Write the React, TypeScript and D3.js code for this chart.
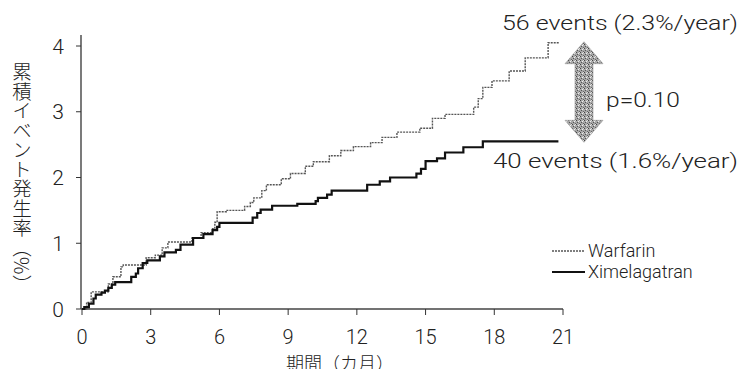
import React from "react";
import * as d3 from "d3";

// step points: [month, cumulative event rate %], each point starts a new level
const warfarin: [number, number][] = [
	[0, 0], [0.2, 0.1], [0.4, 0.26], [1.15, 0.38], [1.35, 0.49], [1.7, 0.64], [1.8, 0.67],
	[2.8, 0.78], [3.2, 0.82], [3.5, 0.93], [3.75, 1.02], [4.8, 1.08], [5.2, 1.16], [5.7, 1.22],
	[5.8, 1.32], [5.9, 1.48], [6.3, 1.5], [7.1, 1.56], [7.35, 1.62], [7.5, 1.69], [7.85, 1.8],
	[8.05, 1.89], [8.7, 1.98], [9.1, 2.06], [9.75, 2.17], [10.1, 2.24], [10.8, 2.33], [11.3, 2.41],
	[11.85, 2.47], [12.6, 2.53], [13.1, 2.61], [13.75, 2.69], [14.75, 2.75], [15.3, 2.9],
	[15.85, 2.96], [17.1, 3.07], [17.3, 3.2], [17.5, 3.37], [17.9, 3.47], [18.65, 3.62],
	[19.35, 3.82], [20.35, 4.05], [20.85, 4.05],
];
const ximelagatran: [number, number][] = [
	[0, 0], [0.1, 0.03], [0.3, 0.08], [0.5, 0.16], [0.6, 0.22], [0.85, 0.25], [1.0, 0.28],
	[1.15, 0.32], [1.3, 0.37], [1.45, 0.41], [2.15, 0.49], [2.35, 0.54], [2.45, 0.62],
	[2.65, 0.7], [2.85, 0.74], [3.4, 0.8], [3.6, 0.86], [4.1, 0.9], [4.3, 0.98], [4.85, 1.08],
	[5.3, 1.14], [5.7, 1.2], [5.9, 1.25], [6.0, 1.31], [7.45, 1.39], [7.65, 1.46], [7.8, 1.51],
	[8.3, 1.57], [9.4, 1.6], [10.2, 1.64], [10.3, 1.69], [10.7, 1.74], [10.9, 1.8], [12.45, 1.89],
	[13.0, 1.94], [13.45, 2.0], [14.6, 2.06], [14.8, 2.13], [15.0, 2.25], [15.5, 2.29],
	[15.85, 2.38], [16.65, 2.46], [17.5, 2.55], [20.8, 2.55],
];
const xTicks = [0, 3, 6, 9, 12, 15, 18, 21];
const yTicks = [0, 1, 2, 3, 4];
const seriesNames = ["Warfarin", "Ximelagatran"];
const yTitle = "累積イベント発生率（%）";
const xTitle = "期間（カ月）";
const upperNote = "56 events (2.3%/year)";
const lowerNote = "40 events (1.6%/year)";
const pNote = "p=0.10";

const font = "Roboto, 'Noto Sans CJK JP', sans-serif";
const cjk = "'Noto Sans CJK JP', sans-serif";

export default function App() {
	const x = d3.scaleLinear().domain([0, 21]).range([82, 563]);
	const y = d3.scaleLinear().domain([0, 4]).range([309, 46]);
	const line = d3
		.line<[number, number]>()
		.x((d) => x(d[0]))
		.y((d) => y(d[1]))
		.curve(d3.curveStepAfter);

	// double arrow between the two end levels
	const ax = 584,
		top = y(4.05) - 1,
		bot = y(2.55) + 1,
		hw = 19,
		sw = 9,
		hh = 22;
	const arrow = `M${ax},${top} L${ax + hw},${top + hh} L${ax + sw},${top + hh} L${ax + sw},${bot - hh} L${ax + hw},${bot - hh} L${ax},${bot} L${ax - hw},${bot - hh} L${ax - sw},${bot - hh} L${ax - sw},${top + hh} L${ax - hw},${top + hh} Z`;

	return (
		<svg
			width={746}
			height={369}
			style={{ position: "absolute", left: 0, top: 0, background: "white" }}
			fontFamily={font}
			fontWeight={300}
		>
			<defs>
				<pattern id="stip" width={4} height={4} patternUnits="userSpaceOnUse">
					<rect width={4} height={4} fill="#a8a8a8" />
					<rect x={0} y={0} width={1} height={1} fill="#444" />
					<rect x={2} y={1} width={1} height={1} fill="#eee" />
					<rect x={1} y={2} width={1} height={1} fill="#555" />
					<rect x={3} y={3} width={1} height={1} fill="#666" />
					<rect x={3} y={0} width={1} height={1} fill="#ddd" />
				</pattern>
			</defs>

			{/* axes */}
			<line x1={x(0) - 1} x2={x(0) - 1} y1={35} y2={y(0)} stroke="#333" strokeWidth={1.3} />
			<line x1={x(0) - 1} x2={x(21)} y1={y(0)} y2={y(0)} stroke="#444" strokeWidth={1.3} />
			{yTicks.map((t) => (
				<g key={"y" + t}>
					<line x1={x(0) - 6} x2={x(0) - 1} y1={y(t)} y2={y(t)} stroke="#333" strokeWidth={1} />
					<text x={64} y={y(t)} dy="0.36em" textAnchor="end" fontSize={21} fill="#222">
						{t}
					</text>
				</g>
			))}
			{xTicks.map((t) => (
				<g key={"x" + t}>
					<line x1={x(t)} x2={x(t)} y1={y(0)} y2={y(0) + 6} stroke="#333" strokeWidth={1} />
					<text x={x(t)} y={344} textAnchor="middle" fontSize={20} fill="#222">
						{t}
					</text>
				</g>
			))}
			<text x={340} y={370} textAnchor="middle" fontSize={18} fill="#222" fontFamily={cjk}>
				{xTitle}
			</text>
			<text x={22} y={62} fontSize={19.5} fill="#222" fontFamily={cjk} style={{ writingMode: "vertical-rl" }}>
				{yTitle}
			</text>

			{/* series */}
			<path d={line(warfarin) || ""} fill="none" stroke="#555" strokeWidth={1.4} strokeDasharray="2,1" />
			<path d={line(ximelagatran) || ""} fill="none" stroke="#111" strokeWidth={2.2} />

			{/* annotations */}
			<path d={arrow} fill="url(#stip)" stroke="#999" strokeWidth={0.6} />
			<text x={502} y={30} fontSize={20} fill="#222" textLength={236} lengthAdjust="spacingAndGlyphs">
				{upperNote}
			</text>
			<text x={493} y={168} fontSize={20} fill="#222" textLength={245} lengthAdjust="spacingAndGlyphs">
				{lowerNote}
			</text>
			<text x={606} y={107} fontSize={20} fill="#222" textLength={74} lengthAdjust="spacingAndGlyphs">
				{pNote}
			</text>

			{/* legend */}
			{seriesNames.map((name, i) => (
				<g key={name} transform={`translate(552, ${251 + i * 21})`}>
					<line
						x1={0}
						x2={33}
						y1={0}
						y2={0}
						stroke={i === 0 ? "#555" : "#111"}
						strokeWidth={i === 0 ? 1.4 : 2.2}
						strokeDasharray={i === 0 ? "2,1" : undefined}
					/>
					<text x={36} y={0} dy="0.35em" fontSize={18} fill="#222">
						{name}
					</text>
				</g>
			))}
		</svg>
	);
}
